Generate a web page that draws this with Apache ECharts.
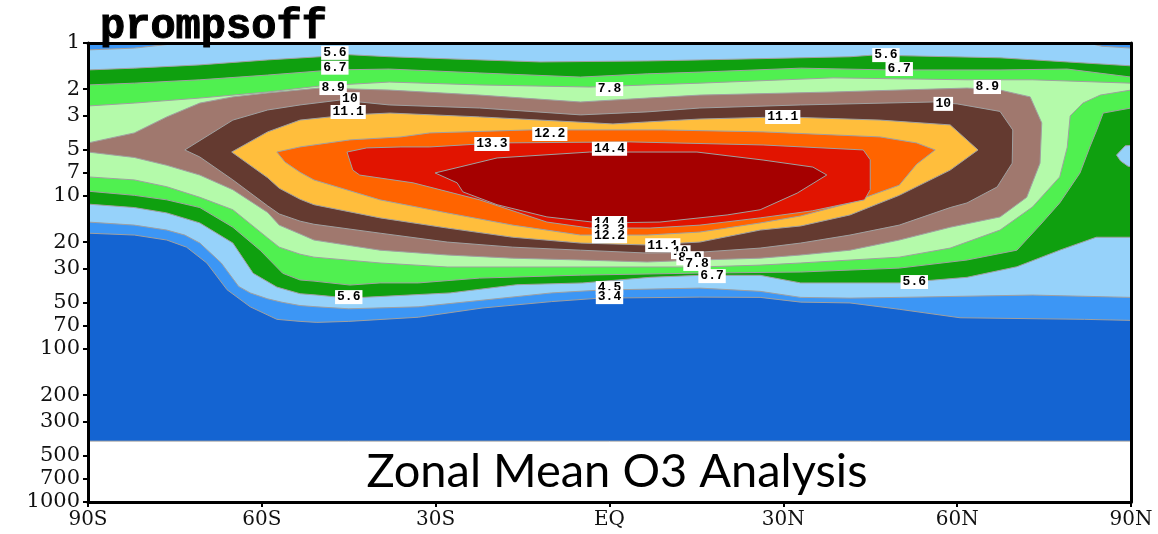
<!DOCTYPE html>
<html>
<head>
<meta charset="utf-8">
<script src="https://cdn.jsdelivr.net/npm/echarts@6/dist/echarts.min.js"></script>
<style>
html,body{margin:0;padding:0;background:#fff}
#chart{width:1158px;height:534px}
</style>
</head>
<body>
<div id="chart"></div>
<script>
// Contour levels of the zonal mean ozone field (ppmv) and the fill colour of each band
const levels = [3.4, 4.5, 5.6, 6.7, 7.8, 8.9, 10, 11.1, 12.2, 13.3, 14.4];
const bandColors = ['#1464d2', '#3c96f5', '#96d2fa', '#0fa00f', '#50f050', '#b4faaa',
                    '#a0786e', '#643a30', '#ffbe3c', '#ff6400', '#e11400', '#a50000'];

// Axis ticks
const pressureTicks = [1, 2, 3, 5, 7, 10, 20, 30, 50, 70, 100, 200, 300, 500, 700, 1000];
const latTickLabels = ['90S', '60S', '30S', 'EQ', '30N', '60N', '90N'];

// Regions as [latitude, pressure hPa] outlines; each encloses the field above its level.
// Points just beyond ±90 or above 1 hPa are trimmed by the plot frame.
const analysisDomain = [[-95, 0.8], [95, 0.8], [95, 400], [-95, 400]];

const above3_4 = [[-95, 0.8], [95, 0.8], [95, 65],
  [90, 65], [82, 64], [60.5, 62.5], [50, 55], [41.5, 50], [33, 49.4], [26, 46], [15.6, 45.8],
  [-1.6, 46.5], [-10, 49], [-22, 54], [-33, 62], [-45, 66], [-50.5, 67], [-53.4, 66], [-57.4, 64],
  [-62, 53], [-66, 41], [-69.5, 27.4], [-73, 21.6], [-76.4, 19.4], [-82, 18], [-90, 17.5], [-95, 17.5]];

const above4_5 = [[-95, 1.11], [-90, 1.11], [-82, 1.08], [-74, 1.0], [-71, 0.95], [-71, 0.8],
  [81, 0.8], [81, 0.97], [85, 1.05], [90, 1.08], [95, 1.08],
  [95, 46], [90, 46], [73, 44.4], [50, 46], [41.5, 46.5], [33, 46], [26, 42], [15.6, 40],
  [-1.6, 41.2], [-10, 43], [-22, 48], [-33, 53], [-45, 54.6], [-50.5, 53], [-53.4, 52],
  [-56.5, 49.5], [-59, 47], [-62, 43], [-64, 39], [-67, 27.4], [-70.7, 20.3], [-73.3, 18],
  [-76.4, 16.7], [-82, 15.5], [-90, 14.8], [-95, 14.8]];

const above5_6 = [[-95, 1.5], [-90, 1.5], [-82, 1.46], [-70.7, 1.39], [-59, 1.29], [-50, 1.23],
  [-47.4, 1.18], [-38, 1.23], [-27.5, 1.27], [-12, 1.33], [6.5, 1.31], [15.6, 1.29], [41.5, 1.23],
  [45.5, 1.2], [67.4, 1.25], [79, 1.33], [90, 1.41], [95, 1.41],
  [95, 18.6], [90, 18.6], [84, 18.6], [77.7, 22.6], [70.3, 29], [61.7, 34], [50, 37], [33, 37],
  [26, 33], [15.6, 33], [7, 34], [-4.6, 37], [-16, 38], [-27.5, 43], [-45, 46.5], [-50.5, 44.4],
  [-53.4, 43.5], [-57.4, 39.4], [-61.5, 32], [-65, 20.3], [-70.7, 15], [-76.4, 12.9], [-82, 11.9],
  [-90, 11.3], [-95, 11.3]];

// small pocket below 5.6 at the north pole edge
const below5_6Pole = [[87.5, 5.4], [89, 4.7], [95, 4.5], [95, 6.6], [89.5, 6.4], [88.2, 5.9]];

const above6_7 = [[-95, 1.88], [-90, 1.88], [-82, 1.83], [-70.7, 1.74], [-59, 1.62], [-47.7, 1.5],
  [-38, 1.48], [-22.4, 1.57], [-5, 1.67], [6.5, 1.59], [15.6, 1.55], [33, 1.46], [48.4, 1.5],
  [67.4, 1.5], [79, 1.48], [90, 1.67], [95, 1.67],
  [95, 2.66], [90, 2.66], [85.2, 2.87], [84.1, 3.7], [82.9, 4.78], [81.2, 7.07], [77.7, 11.1],
  [74.3, 15.5], [70.3, 22.6], [61.7, 26.2], [50, 29.6], [33, 31.4], [15.6, 31.9], [-5, 32.9],
  [-22.4, 34.4], [-33, 37], [-39.6, 37], [-44.8, 38.2], [-51, 36], [-53.4, 35.4], [-56.4, 32],
  [-60.3, 22.6], [-65, 16], [-70.7, 11.9], [-76.4, 10.6], [-82, 9.9], [-90, 9.3], [-95, 9.3]];

const above7_8 = [[-95, 2.58], [-90, 2.58], [-82, 2.47], [-70.7, 2.29], [-59, 2.09], [-50, 1.91],
  [-38, 1.8], [-22.4, 1.88], [-3.4, 1.94], [6.5, 1.88], [15.6, 1.83], [38.6, 1.69], [61.7, 1.74],
  [73, 1.74], [90, 1.83], [95, 1.83],
  [95, 2.03], [90, 2.03], [84.7, 2.19], [81.7, 2.47], [79.5, 3.0], [79, 4.8], [77.7, 7.5],
  [73, 11.8], [67.4, 16.7], [58.8, 21.9], [50, 25.1], [33, 27.4], [26, 28.3], [15.6, 29.1],
  [8.7, 29.1], [-5, 29.1], [-16.7, 29.1], [-28, 29.1], [-39.6, 27.4], [-51, 25.1], [-53.4, 24],
  [-57, 21.6], [-59, 18.8], [-65, 12.3], [-70.7, 10.2], [-76.4, 8.7], [-82, 7.85], [-90, 7.5],
  [-95, 7.5]];

const above8_9 = [[-95, 4.5], [-90, 4.5], [-82, 3.87], [-76.4, 3.04], [-70.7, 2.47], [-65, 2.25],
  [-59, 2.12], [-50, 1.97], [-38, 2.03], [-22.4, 2.19], [-5, 2.43], [6.5, 2.29], [15.6, 2.19],
  [38.6, 2.09], [61.7, 1.97], [67.4, 2.03], [72.6, 2.25], [74.6, 3.33], [74.3, 6.1], [72, 10.2],
  [67.4, 13.7], [58.8, 16], [50, 19.4], [41.5, 22.6], [33, 24.3], [26, 25.5], [15.6, 26.2],
  [6.5, 27], [-5, 26.2], [-16.7, 25.5], [-28, 24.3], [-39.6, 22.6], [-51, 19.4], [-53.4, 17.7],
  [-57, 15.5], [-59, 12.8], [-65, 9.1], [-70.7, 7.3], [-76.4, 6.3], [-82, 5.6], [-90, 5.16],
  [-95, 5.16]];

const above10 = [[-73.3, 5.0], [-65, 3.19], [-59, 2.74], [-53.4, 2.54], [-46.5, 2.36], [-38, 2.54],
  [-22.4, 2.66], [-5, 2.95], [6.5, 2.82], [15.6, 2.66], [33, 2.54], [55.8, 2.43], [60, 2.5],
  [67.4, 2.8], [69.6, 3.7], [69.5, 6.1], [66.9, 8.73], [61.7, 11.1], [58.8, 11.9], [50, 15.5],
  [41.5, 18], [33, 20.3], [26, 21.9], [15.6, 23.3], [6.5, 23.6], [-5, 22.6], [-16.7, 21.6],
  [-28, 20], [-39.6, 17.5], [-51, 15.3], [-53.4, 14.6], [-57, 13.1], [-59, 11.6], [-65, 7.85],
  [-70.7, 5.56]];

const above11_1 = [[-65.2, 5.16], [-59, 3.81], [-53.4, 3.19], [-44.8, 2.95], [-37.9, 2.87],
  [-22.4, 3.04], [-12, 3.19], [0.6, 3.38], [6.5, 3.28], [15.6, 3.14], [30, 3.04], [46.7, 3.19],
  [58.8, 3.43], [63.6, 5.0], [58.8, 6.77], [50, 9.9], [41.5, 13.3], [33, 15.7], [26, 16.7],
  [15.6, 20], [6.5, 20.9], [-5, 20.3], [-16.7, 18.6], [-28, 16.2], [-39.6, 13.9], [-51, 11.4],
  [-53.4, 10.5], [-57, 8.9], [-59, 7.6]];

const above12_2 = [[-57.4, 5.16], [-53.4, 4.78], [-44.8, 4.3], [-36, 4.11], [-31, 3.87],
  [-13.7, 3.7], [9.2, 3.7], [26.5, 3.81], [46.7, 4.11], [53, 4.5], [56.2, 5.0], [53, 6.2],
  [50, 8.5], [41.5, 11.1], [33, 13.5], [26, 15], [15.6, 17.2], [6.5, 18], [-5, 18], [-16.7, 15.5],
  [-28, 12.9], [-39.6, 10.6], [-51, 7.85], [-53.4, 7.0], [-56, 6.0]];

const above13_3 = [[-45.3, 5.16], [-41.9, 4.85], [-36, 4.78], [-31, 4.78], [-19.4, 4.5],
  [3.5, 4.43], [26.5, 4.64], [43.8, 5.0], [45, 5.8], [45, 9.1], [44, 10.6], [35, 12.5],
  [26, 13.9], [15.6, 15.5], [7, 16.2], [-3.4, 16.2], [-10.8, 14.8], [-22.4, 10.6], [-33.9, 8.2],
  [-43.1, 7.3], [-44.3, 6.77]];

const above14_4 = [[-30.1, 7.07], [-19.4, 5.64], [-3.4, 5.16], [15.1, 5.16], [26.5, 5.82],
  [35.1, 6.47], [37.5, 7.29], [32.4, 9.57], [26, 12.3], [20.3, 13.3], [8.7, 14.8], [-1.6, 15],
  [-10.8, 13.7], [-19.4, 11.4], [-25.3, 9.4], [-26.3, 8.2]];

// Contour labels: [latitude, pressure hPa, level]
const contourLabels = [
  [-47.4, 1.16, 5.6], [-47.4, 1.45, 6.7], [-47.7, 1.97, 8.9], [-44.8, 2.33, 10], [-45.1, 2.82, 11.1],
  [0, 2.0, 7.8], [47.7, 1.2, 5.6], [50, 1.48, 6.7], [65.2, 1.94, 8.9], [57.6, 2.5, 10],
  [29.9, 3.04, 11.1], [-10.3, 3.93, 12.2], [-20.3, 4.57, 13.3], [0, 4.92, 14.4],
  [0, 15.0, 14.4], [0, 16.7, 13.3], [0, 18.3, 12.2], [9.2, 21, 11.1], [12.3, 23.3, 10],
  [13.9, 25.5, 8.9], [15.1, 27.8, 7.8], [17.7, 33.4, 6.7], [-45, 45.8, 5.6], [0, 40, 4.5],
  [0, 45.8, 3.4], [52.6, 36.5, 5.6]
];

// Drawing order: each filled region paints over the ones before it
const regions = [
  { level: null, pts: analysisDomain },
  { level: 3.4, pts: above3_4 },
  { level: 4.5, pts: above4_5 },
  { level: 5.6, pts: above5_6 },
  { level: 5.6, pts: below5_6Pole, below: true },
  { level: 6.7, pts: above6_7 },
  { level: 7.8, pts: above7_8 },
  { level: 8.9, pts: above8_9 },
  { level: 10, pts: above10 },
  { level: 11.1, pts: above11_1 },
  { level: 12.2, pts: above12_2 },
  { level: 13.3, pts: above13_3 },
  { level: 14.4, pts: above14_4 }
];

function regionColor(r) {
  if (r.level === null) return bandColors[0];
  const i = levels.indexOf(r.level);
  return r.below ? bandColors[i] : bandColors[i + 1];
}

const chart = echarts.init(document.getElementById('chart'), null, { renderer: 'canvas' });

const tickFont = { fontFamily: 'DejaVu Serif', fontSize: 20, color: '#111' };
const frameLine = { show: true, onZero: false, lineStyle: { color: '#000', width: 3 } };

chart.setOption({
  animation: false,
  backgroundColor: '#fff',
  title: {
    text: 'prompsoff',
    left: 95, top: 1,
    textStyle: {
      fontFamily: 'Liberation Mono', fontWeight: 'bold', fontSize: 42, color: '#000',
      textBorderColor: '#000', textBorderWidth: 1
    }
  },
  grid: { left: 88, right: 27, top: 43, bottom: 32 },
  xAxis: [{
    type: 'value', min: -90, max: 90, interval: 30, z: 10,
    axisLine: frameLine,
    axisTick: { show: true, inside: false, length: 5, lineStyle: { color: '#000', width: 2 } },
    axisLabel: Object.assign({ margin: 8, formatter: v => latTickLabels[Math.round((v + 90) / 30)] }, tickFont),
    splitLine: { show: false }
  }, {
    type: 'value', position: 'top', min: -90, max: 90, z: 10,
    axisLine: frameLine, axisTick: { show: false }, axisLabel: { show: false }, splitLine: { show: false }
  }],
  yAxis: [{
    type: 'value', inverse: true, min: 0, max: 3, z: 10,
    axisLine: frameLine,
    axisTick: {
      show: true, length: 5, lineStyle: { color: '#000', width: 2 },
      customValues: pressureTicks.map(p => Math.log10(p))
    },
    axisLabel: Object.assign({
      margin: 8,
      customValues: pressureTicks.map(p => Math.log10(p)),
      formatter: v => String(Math.round(Math.pow(10, v)))
    }, tickFont, { fontSize: 21 }),
    splitLine: { show: false }
  }, {
    type: 'value', position: 'right', inverse: true, min: 0, max: 3, z: 10,
    axisLine: frameLine, axisTick: { show: false }, axisLabel: { show: false }, splitLine: { show: false }
  }],
  graphic: [{
    type: 'text', x: 617, y: 472, z: 100,
    style: { text: 'Zonal Mean O3 Analysis', font: '47px Lato', fill: '#000', align: 'center', verticalAlign: 'middle' }
  }],
  series: [{
    type: 'custom',
    clip: true,
    z: 2,
    data: regions.map(() => [0, 1]),
    renderItem: function (params, api) {
      const r = regions[params.dataIndex];
      const points = r.pts.map(([lat, p]) => api.coord([lat, Math.log10(p)]));
      return {
        type: 'polygon',
        shape: { points: points },
        style: { fill: regionColor(r), stroke: '#a0a0a0', lineWidth: 1 }
      };
    }
  }, {
    // contour value tags on white boxes
    type: 'custom',
    z: 5,
    data: contourLabels.map(([lat, p, lev]) => [lat, Math.log10(p), lev]),
    renderItem: function (params, api) {
      const pt = api.coord([api.value(0), api.value(1)]);
      return {
        type: 'text',
        x: pt[0], y: pt[1],
        style: {
          text: String(api.value(2)),
          font: 'bold 13px "Liberation Mono"',
          fill: '#000',
          align: 'center', verticalAlign: 'middle',
          backgroundColor: '#fff',
          padding: [1, 2, 0, 2]
        }
      };
    }
  }]
});
</script>
</body>
</html>
